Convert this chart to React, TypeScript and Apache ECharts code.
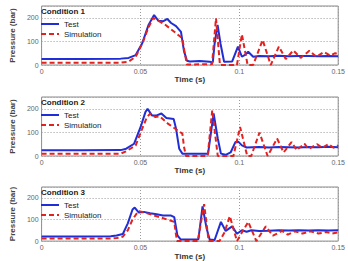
import React, { useEffect, useRef } from "react";
import * as echarts from "echarts";

const xTicks = ["0", "0.05", "0.1", "0.15"];
const conditions = ["Condition 1", "Condition 2", "Condition 3"];

const c1TestT = [0, 0.02, 0.04, 0.044, 0.0476, 0.0509, 0.0541, 0.0569, 0.059, 0.0614, 0.0636, 0.0655, 0.068, 0.0705, 0.072, 0.0735, 0.075, 0.08, 0.085, 0.0866, 0.0875, 0.089, 0.0905, 0.0923, 0.0964, 0.0993, 0.1013, 0.1029, 0.1045, 0.107, 0.11, 0.115, 0.12, 0.125, 0.13, 0.135, 0.14, 0.145, 0.15];
const c1TestV = [25, 25, 27, 30, 42, 92, 170, 212, 188, 185, 195, 178, 165, 140, 60, 18, 15, 17, 14, 12, 90, 170, 90, 14, 15, 78, 35, 43, 56, 35, 38, 37, 39, 37, 38, 38, 37, 38, 37];
const c1SimT = [0, 0.04, 0.044, 0.0476, 0.0509, 0.0541, 0.0565, 0.0623, 0.0671, 0.0712, 0.0722, 0.0735, 0.08, 0.0862, 0.0882, 0.0902, 0.095, 0.0988, 0.1013, 0.1042, 0.107, 0.1118, 0.1159, 0.12, 0.1235, 0.1273, 0.131, 0.1354, 0.139, 0.1427, 0.146, 0.1485, 0.15];
const c1SimV = [10, 10, 14, 35, 90, 160, 200, 172, 141, 113, 60, 2, 3, 3, 198, 0, 0, 0, 130, 0, 0, 106, 0, 78, 25, 62, 30, 60, 35, 55, 40, 50, 45];

const c2TestT = [0, 0.02, 0.04, 0.0428, 0.0468, 0.0501, 0.0525, 0.0536, 0.0558, 0.0582, 0.0606, 0.0631, 0.0668, 0.068, 0.0696, 0.0712, 0.08, 0.0842, 0.087, 0.0891, 0.0907, 0.0931, 0.0956, 0.098, 0.0996, 0.1013, 0.1037, 0.11, 0.115, 0.12, 0.125, 0.13, 0.135, 0.14, 0.145, 0.15];
const c2TestV = [24, 24, 25, 31, 52, 123, 186, 200, 172, 172, 180, 161, 157, 116, 31, 10, 10, 10, 180, 74, 10, 5, 15, 59, 60, 45, 36, 38, 36, 38, 37, 36, 38, 37, 39, 37];
const c2SimT = [0, 0.04, 0.0428, 0.0476, 0.0509, 0.0533, 0.055, 0.0574, 0.0598, 0.0639, 0.0687, 0.0712, 0.072, 0.073, 0.084, 0.0863, 0.0891, 0.097, 0.1004, 0.104, 0.106, 0.1102, 0.1143, 0.1191, 0.1224, 0.1264, 0.129, 0.1329, 0.135, 0.1394, 0.1418, 0.1451, 0.1476, 0.15];
const c2SimV = [10, 10, 20, 45, 116, 165, 180, 165, 168, 137, 109, 95, 40, 0, 0, 194, 0, 0, 123, 0, 0, 99, 0, 74, 15, 59, 25, 52, 30, 50, 35, 50, 35, 45];

const c3TestT = [0, 0.02, 0.035, 0.0379, 0.0411, 0.0436, 0.046, 0.0471, 0.0492, 0.0517, 0.0549, 0.0582, 0.0614, 0.0655, 0.0671, 0.0687, 0.0704, 0.0793, 0.0814, 0.0834, 0.085, 0.0875, 0.0907, 0.0931, 0.0964, 0.0988, 0.1013, 0.1037, 0.1061, 0.11, 0.115, 0.12, 0.125, 0.13, 0.135, 0.14, 0.145, 0.15];
const c3TestV = [21, 21, 22, 26, 33, 82, 146, 155, 132, 135, 129, 124, 118, 118, 111, 26, 7, 8, 160, 61, 7, 5, 89, 47, 68, 34, 50, 43, 50, 47, 48, 50, 49, 50, 49, 50, 49, 50];
const c3SimT = [0, 0.035, 0.038, 0.041, 0.0436, 0.046, 0.049, 0.0517, 0.06, 0.0671, 0.0678, 0.0685, 0.079, 0.0822, 0.0845, 0.09, 0.0925, 0.0952, 0.0988, 0.1045, 0.1086, 0.1134, 0.117, 0.1216, 0.1245, 0.128, 0.132, 0.136, 0.14, 0.144, 0.147, 0.15];
const c3SimV = [12, 12, 14, 20, 50, 100, 139, 133, 110, 89, 40, 0, 0, 171, 0, 0, 40, 115, 0, 89, 0, 68, 25, 47, 30, 45, 35, 45, 35, 42, 35, 40];

const FONT = "Liberation Sans, Arial, sans-serif";
const BLUE = "#1f2ed6";
const RED = "#e3211f";

function zip(t: number[], v: number[]) {
  return t.map((x, i) => [x, v[i]]);
}

export default function App() {
  const ref = useRef<HTMLDivElement>(null);
  useEffect(() => {
    if (!ref.current) return;
    const chart = echarts.init(ref.current, null, { renderer: "svg" });
    const tops = [6, 97, 187];
    const H = 59;
    const panels = [
      [c1TestT, c1TestV, c1SimT, c1SimV],
      [c2TestT, c2TestV, c2SimT, c2SimV],
      [c3TestT, c3TestV, c3SimT, c3SimV],
    ];
    const grid = tops.map((top) => ({
      left: 33,
      width: 307,
      top,
      height: H,
      show: true,
      borderColor: "#8a8a8a",
      borderWidth: 1,
      backgroundColor: "#fff",
    }));
    const xAxis = tops.map((_, i) => ({
      type: "value",
      gridIndex: i,
      min: 0,
      max: 0.15,
      interval: 0.05,
      name: "Time (s)",
      nameLocation: "middle",
      nameGap: 9,
      nameTextStyle: { fontFamily: FONT, fontSize: 8, fontWeight: "bold", color: "#333" },
      axisLine: { show: false },
      axisTick: { show: false },
      axisLabel: {
        fontFamily: FONT,
        fontSize: 7,
        color: "#666",
        margin: 3,
        formatter: (v: number) => xTicks[Math.round(v / 0.05)] ?? "",
      },
      splitLine: { show: true, lineStyle: { color: "#9a9a9a", type: [1, 2], width: 1 } },
    }));
    const yAxis = tops.map((_, i) => ({
      type: "value",
      gridIndex: i,
      min: 0,
      max: 250,
      interval: 100,
      name: "Pressure (bar)",
      nameLocation: "middle",
      nameGap: 25,
      nameTextStyle: { fontFamily: FONT, fontSize: 8, fontWeight: "bold", color: "#444" },
      axisLine: { show: false },
      axisTick: { show: false },
      axisLabel: {
        fontFamily: FONT,
        fontSize: 7,
        color: "#666",
        margin: 3,
        formatter: (v: number) => (v > 200 ? "" : String(v)),
      },
      splitLine: { show: true, lineStyle: { color: "#9a9a9a", type: [1, 2], width: 1 } },
    }));
    const series: any[] = [];
    panels.forEach((p, i) => {
      series.push({
        type: "line",
        name: "Test",
        xAxisIndex: i,
        yAxisIndex: i,
        data: zip(p[0], p[1]),
        symbol: "none",
        lineStyle: { color: BLUE, width: 2 },
        itemStyle: { color: BLUE },
        z: 3,
      });
      series.push({
        type: "line",
        name: "Simulation",
        xAxisIndex: i,
        yAxisIndex: i,
        data: zip(p[2], p[3]),
        symbol: "none",
        lineStyle: { color: RED, width: 2, type: [5, 3] },
        itemStyle: { color: RED },
        z: 4,
      });
    });
    const title = tops.map((top, i) => ({
      text: conditions[i],
      left: 41,
      top: top + 1,
      textStyle: { fontFamily: FONT, fontSize: 8, fontWeight: "bold", color: "#222" },
      padding: 0,
    }));
    const legend = tops.map((top) => ({
      orient: "vertical",
      left: 40,
      top: top + 14,
      padding: 0,
      itemWidth: 18,
      itemHeight: 7,
      itemGap: 2,
      data: ["Test", "Simulation"],
      itemStyle: { opacity: 0 },
      textStyle: { fontFamily: FONT, fontSize: 8, color: "#222", padding: [0, 0, 0, 0] },
      selectedMode: false,
    }));
    chart.setOption({
      animation: false,
      backgroundColor: "#fff",
      title,
      legend,
      grid,
      xAxis,
      yAxis,
      series,
    });
    return () => chart.dispose();
  }, []);
  return (
    <div
      ref={ref}
      style={{ position: "fixed", left: 0, top: 0, width: 348, height: 261 }}
    />
  );
}
